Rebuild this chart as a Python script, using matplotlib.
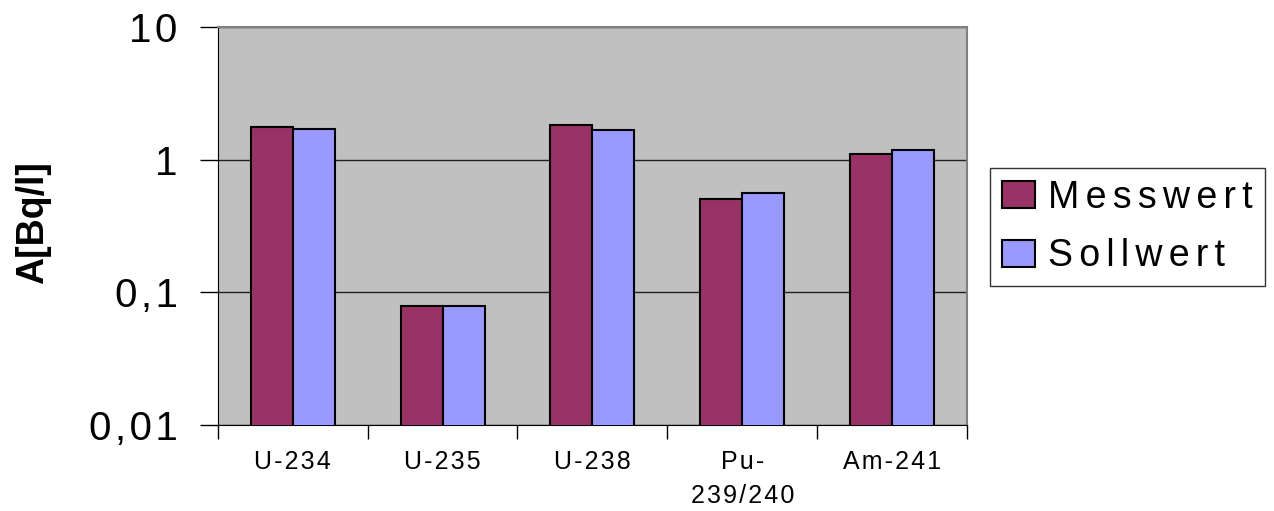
import matplotlib.pyplot as plt
import numpy as np

plt.rcParams['font.family'] = ['Liberation Sans', 'DejaVu Sans']

# Nuclides and activities (Bq/l)
nuclides = ["U-234", "U-235", "U-238", "Pu-\n239/240", "Am-241"]
messwert = [1.76, 0.0785, 1.83, 0.51, 1.11]
sollwert = [1.70, 0.0785, 1.69, 0.565, 1.19]
ytick_vals = [0.01, 0.1, 1, 10]
ytick_text = ['0,01', '0,1', '1', '10']


def spaced(s, sp='\u200a'):
    # fake letter spacing like the old Excel export
    return '\n'.join(sp.join(line) for line in s.split('\n'))


fig = plt.figure(figsize=(12.74, 5.11), dpi=100)
ax = fig.add_axes([0.171, 0.168, 0.588, 0.779])
ax.set_facecolor('#C0C0C0')

x = np.arange(len(nuclides))
w = 0.28
ax.bar(x - w / 2, messwert, w, color='#993366', edgecolor='black',
       linewidth=1.5, label=spaced('Messwert', '\u200a\u200a'), zorder=3)
ax.bar(x + w / 2, sollwert, w, color='#9999FF', edgecolor='black',
       linewidth=1.5, label=spaced('Sollwert', '\u200a\u200a'), zorder=3)

ax.set_yscale('log')
ax.set_ylim(0.01, 10)
ax.set_xlim(-0.5, len(nuclides) - 0.5)
ax.set_yticks(ytick_vals)
ax.set_yticklabels([spaced(t) for t in ytick_text], fontsize=29)
ax.yaxis.set_minor_locator(plt.NullLocator())
ax.grid(axis='y', color='#202020', linewidth=1, zorder=1)
ax.tick_params(axis='y', length=13, width=1, pad=16)

# x ticks at category boundaries, labels at centers
ax.set_xticks(np.arange(-0.5, len(nuclides)), minor=False)
ax.set_xticklabels([])
ax.set_xticks(x, minor=True)
ax.set_xticklabels([spaced(n) for n in nuclides], minor=True, fontsize=18,
                   linespacing=1.5)
ax.tick_params(axis='x', which='major', length=10, width=1)
ax.tick_params(axis='x', which='minor', length=0, pad=18)
for lbl in ax.get_xticklabels(minor=True):
    lbl.set_verticalalignment('top')

for side in ['top', 'right']:
    ax.spines[side].set_color('#808080')
    ax.spines[side].set_linewidth(1.5)
ax.spines['left'].set_color('black')
ax.spines['bottom'].set_color('black')

ax.set_ylabel('A[Bq/l]', fontsize=27, fontweight='bold')
ax.yaxis.set_label_coords(-0.223, 0.508)

leg = fig.legend(loc='upper left', bbox_to_anchor=(0.777, 0.671), fontsize=27,
                 frameon=True, fancybox=False, edgecolor='black',
                 handlelength=0.88, handleheight=0.72, handletextpad=0.37,
                 borderpad=0.31, labelspacing=0.6, borderaxespad=0)
leg.get_frame().set_linewidth(1)
for p in leg.get_patches():
    p.set_linewidth(1.5)

fig.savefig('out.png', dpi=100)
